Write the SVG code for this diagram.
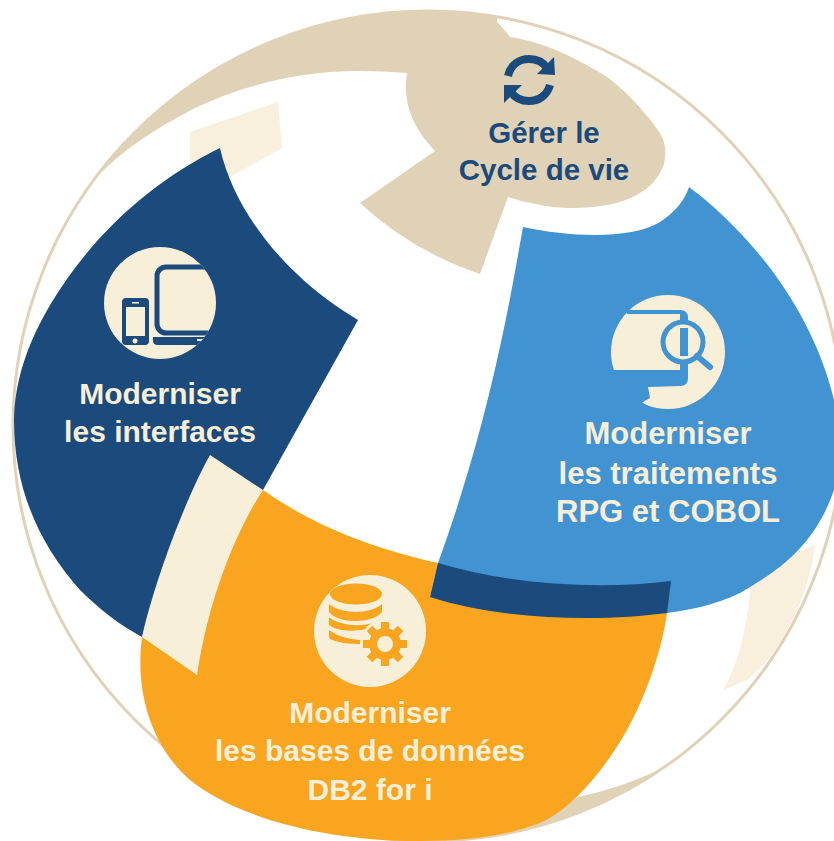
<svg xmlns="http://www.w3.org/2000/svg" width="834" height="841" viewBox="0 0 834 841">
<style>
text{font-family:"Liberation Sans",Arial,sans-serif;font-weight:700;font-size:30px;text-anchor:middle}
.big{font-size:31px}
.cy{font-size:29.500px}
.lt{fill:#f8efd8}.dk{fill:#1b4a7c}.tan{fill:#e0d2b7}.or{fill:#f9a51f}.bl{fill:#4293d2}
</style>
<defs>
<clipPath id="c1"><circle cx="160" cy="303" r="56"/></clipPath>
<clipPath id="c3"><circle cx="370" cy="631" r="56"/></clipPath>
</defs>
<rect width="834" height="841" fill="#fff"/>
<g id="background">
<circle cx="428" cy="426" r="415" fill="none" stroke="#e0d2b7" stroke-width="3"/>
<path fill="#f8efdc" d="M190 132L278 102L282 148L230 177L190 170Z"/>
<path fill="#f8efdc" d="M750 570L815 545L813 560C800 618 773 660 747 680L723 690C735 670 745 640 750 593Z"/>
<path class="tan" d="M530 828A415 415 0 0 0 668 765C640 780 610 790 578 797Z"/>
</g>
<g id="node-cycle">
<path class="tan" d="M92 183A415 415 0 0 1 497 17V22C503 28 507 33 510 37C545 42 580 60 607 77C628 92 650 118 660 133C666 143 667 155 663 167C657 180 650 187 640 193C628 200 618 203 607 205C595 207 585 208 573 208C560 208 550 207 540 205C528 203 518 200 508 197L480 274Q410 250 360 203L435 151C415 130 402 105 407 73C380 71 350 70 320 73C270 78 215 95 173 120C150 133 115 155 92 183Z"/>
<path fill="none" stroke="#1b4a7c" stroke-width="8" d="M508 76C511 64 520 59 529 59C537 59 543 62 547 68"/>
<path class="dk" d="M554 57L555 75L537 74Z"/>
<path fill="none" stroke="#1b4a7c" stroke-width="8" d="M550 85C547 96 538 101 529 101C521 101 515 98 511 92"/>
<path class="dk" d="M504 103L504 85L522 85Z"/>
<text class="dk cy" x="544" y="143">Gérer le</text>
<text class="dk cy" x="544" y="180">Cycle de vie</text>
</g>
<g id="node-interfaces">
<path class="dk" d="M220 148C235 215 290 280 358 320L263 490L200 500L175 570L142 637C120 625 100 610 80 590C40 545 14 490 14 420C15 365 40 315 75 268C115 215 165 175 220 148Z"/>
<circle class="lt" cx="160" cy="303" r="56"/>
<g clip-path="url(#c1)">
<rect x="157" y="267" width="70" height="66" rx="9" fill="none" stroke="#1b4a7c" stroke-width="5"/>
<path class="dk" d="M153 337H225V345H158Q153 345 153 341Z"/>
<rect x="197" y="339" width="10" height="2" fill="#f8efd8"/>
<rect x="122" y="298" width="27" height="47" rx="4" class="dk"/>
<rect x="126" y="307" width="19" height="29" class="lt"/>
<circle cx="135" cy="341" r="2.500" class="lt"/>
<rect x="132" y="302" width="7" height="1.500" class="lt"/>
</g>
<text class="lt" x="160" y="404">Moderniser</text>
<text class="lt" x="160" y="442">les interfaces</text>
</g>
<g id="node-traitements">
<path class="bl" d="M523 227C570 237 630 240 660 222C675 212 685 200 689 187C740 225 810 300 834 400V490C815 545 780 570 740 593C715 605 690 610 667 613L650 640L430 600L438 563C490 420 510 300 523 227Z"/>
<circle class="lt" cx="668" cy="352" r="57"/>
<path class="bl" d="M600 370H680V314H627V310H680Q688 310 688 318V378Q688 386 680 386L648 387L650 398L643 402L628 415L600 415Z"/>
<circle cx="683" cy="342" r="20" fill="#f8efd8" stroke="#4293d2" stroke-width="5"/>
<rect x="680" y="328" width="8" height="28" class="bl"/>
<path fill="none" stroke="#4293d2" stroke-width="6" stroke-linecap="round" d="M697 356L710 367"/>
<text class="lt big" x="668" y="444">Moderniser</text>
<text class="lt big" x="668" y="484">les traitements</text>
<text class="lt big" x="668" y="522">RPG et COBOL</text>
</g>
<g id="node-bases">
<path class="or" d="M263 490C320 530 380 550 438 563L430 597L667 613C662 650 645 700 623 737C600 775 570 810 540 823C510 835 470 841 420 841C330 841 240 820 190 780C150 745 135 690 142 637L190 570Z"/>
<path class="lt" d="M210 455L263 490C240 525 210 590 197 675L142 637C155 580 185 500 210 455Z"/>
<path class="dk" d="M438 563C510 585 600 590 671 581L667 613C600 622 500 620 430 597Z"/>
<circle class="lt" cx="370" cy="631" r="56"/>
<g clip-path="url(#c3)">
<ellipse cx="356" cy="594" rx="26" ry="10.500" class="or"/>
<path class="or" d="M329 604C340 614 370 615 382 604V612C372 624 338 624 329 612Z"/>
<path class="or" d="M329 617C340 627 370 628 380 619L372 628C355 632 338 632 329 625Z"/>
<path class="or" d="M329 630C340 638 354 640 364 640V644C350 644 335 643 329 638Z"/>
<circle cx="385" cy="644" r="25" class="lt"/>
<circle cx="385" cy="644" r="16" class="or"/>
<path stroke="#f9a51f" stroke-width="8" d="M363 644H407M385 622V666M369.500 628.500L400.500 659.500M369.500 659.500L400.500 628.500"/>
<circle cx="385" cy="644" r="8" class="lt"/>
</g>
<text class="lt" x="370" y="723">Moderniser</text>
<text class="lt" x="370" y="761">les bases de données</text>
<text class="lt" x="370" y="800">DB2 for i</text>
</g>
<g id="connectors"/>
</svg>
